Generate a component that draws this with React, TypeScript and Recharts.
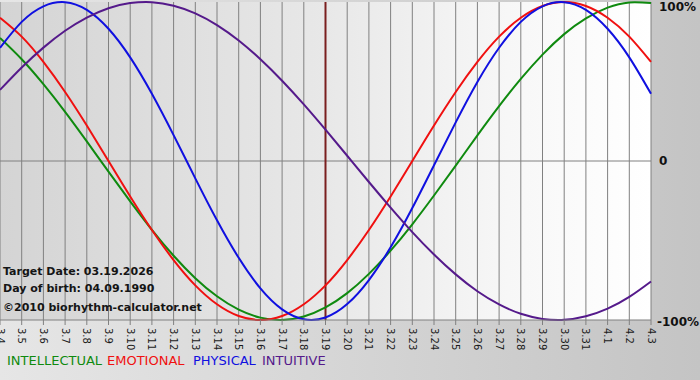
import React from "react";
import { CartesianGrid, Legend, Line, LineChart, ReferenceLine, XAxis, YAxis } from "recharts";

// day index 0 = March 4 ... 30 = April 3
const dayLabels = [
  "3.4", "3.5", "3.6", "3.7", "3.8", "3.9", "3.10", "3.11", "3.12", "3.13", "3.14",
  "3.15", "3.16", "3.17", "3.18", "3.19", "3.20", "3.21", "3.22", "3.23", "3.24",
  "3.25", "3.26", "3.27", "3.28", "3.29", "3.30", "3.31", "4.1", "4.2", "4.3",
];

const intellectual = [
  0.774, 0.64, 0.483, 0.309, 0.123, -0.067, -0.254, -0.433, -0.596, -0.737, -0.851,
  -0.935, -0.985, -1.0, -0.978, -0.921, -0.831, -0.71, -0.564, -0.398, -0.217,
  -0.029, 0.161, 0.345, 0.516, 0.669, 0.798, 0.897, 0.965, 0.997, 0.993,
];
const emotional = [
  0.901, 0.782, 0.623, 0.434, 0.223, 0.0, -0.223, -0.434, -0.623, -0.782, -0.901,
  -0.975, -1.0, -0.975, -0.901, -0.782, -0.623, -0.434, -0.223, 0.0, 0.223,
  0.434, 0.623, 0.782, 0.901, 0.975, 1.0, 0.975, 0.901, 0.782, 0.623,
];
const physical = [
  0.712, 0.875, 0.973, 0.999, 0.951, 0.832, 0.652, 0.423, 0.163, -0.109, -0.373,
  -0.609, -0.801, -0.933, -0.995, -0.984, -0.9, -0.749, -0.543, -0.296, -0.027,
  0.243, 0.497, 0.712, 0.875, 0.973, 0.999, 0.951, 0.832, 0.652, 0.423,
];
const intuitive = [
  0.447, 0.588, 0.713, 0.819, 0.902, 0.961, 0.993, 0.999, 0.977, 0.929, 0.855,
  0.758, 0.64, 0.505, 0.356, 0.197, 0.033, -0.132, -0.293, -0.447, -0.588,
  -0.713, -0.819, -0.902, -0.961, -0.993, -0.999, -0.977, -0.929, -0.855, -0.758,
];

const targetDay = 15;
const yLabels: Record<string, string> = { "1": "100%", "0": "0", "-1": "-100%" };

const series = [
  { key: "intellectual", name: "INTELLECTUAL", color: "#0f8a0f", left: 0 },
  { key: "emotional", name: "EMOTIONAL", color: "#f01010", left: 100 },
  { key: "physical", name: "PHYSICAL", color: "#1010e0", left: 186 },
  { key: "intuitive", name: "INTUITIVE", color: "#551a8b", left: 255 },
];

const data = dayLabels.map((label, i) => ({
  day: i,
  label,
  intellectual: intellectual[i],
  emotional: emotional[i],
  physical: physical[i],
  intuitive: intuitive[i],
}));

const font = "'DejaVu Sans', Verdana, sans-serif";

const XTick = (props: any) => {
  const { x, y, payload } = props;
  return (
    <text
      transform={`translate(${x},${y + 1}) rotate(90)`}
      textAnchor="start"
      dominantBaseline="central"
      fontSize={10}
      fontFamily={font}
      fill="#1a1a1a"
    >
      {dayLabels[payload.value]}
    </text>
  );
};

const YTick = (props: any) => {
  const { x, y, payload } = props;
  let dy = 4;
  let dx = 0;
  if (payload.value === 1) dy = 9;
  if (payload.value === -1) {
    dy = 6;
    dx = -2;
  }
  return (
    <text x={x + dx} y={y + dy} textAnchor="start" fontSize={12} fontWeight="bold" fontFamily={font} fill="#111">
      {yLabels[String(payload.value)]}
    </text>
  );
};

const LegendRow = () => (
  <div style={{ position: "relative", height: 16, fontFamily: font, fontSize: 13, whiteSpace: "nowrap" }}>
    {series.map((s) => (
      <span key={s.key} style={{ position: "absolute", left: s.left, top: 0, color: s.color }}>
        {s.name}
      </span>
    ))}
  </div>
);

export default function App() {
  return (
    <div
      style={{
        position: "absolute",
        left: 0,
        top: 0,
        width: 700,
        height: 380,
        background: "linear-gradient(to right, #e6e6e6, #c4c4c4)",
      }}
    >
      <svg width={0} height={0} style={{ position: "absolute" }}>
        <defs>
          <linearGradient id="plotBg" x1="0" y1="0" x2="1" y2="0">
            <stop offset="0%" stopColor="#d4d4d4" />
            <stop offset="50%" stopColor="#e8e8e8" />
            <stop offset="78%" stopColor="#f7f7f7" />
            <stop offset="100%" stopColor="#ffffff" />
          </linearGradient>
        </defs>
      </svg>
      <LineChart width={700} height={380} data={data} margin={{ top: 2, right: 0, left: 0, bottom: 0 }}>
        <CartesianGrid horizontal={false} stroke="#808080" strokeOpacity={1} fill="url(#plotBg)" fillOpacity={1} />
        <XAxis
          dataKey="day"
          type="number"
          domain={[0, 30]}
          ticks={data.map((d) => d.day)}
          interval={0}
          height={44}
          tickSize={5}
          tickMargin={2}
          stroke="#808080"
          tick={<XTick />}
        />
        <YAxis
          orientation="right"
          domain={[-1, 1]}
          ticks={[1, 0, -1]}
          interval={0}
          width={49}
          axisLine={false}
          tickLine={false}
          tickSize={0}
          tickMargin={8}
          tick={<YTick />}
        />
        <ReferenceLine y={0} stroke="#808080" strokeWidth={1} />
        <ReferenceLine x={targetDay} stroke="#7a1f1f" strokeWidth={2} />
        {series.map((s) => (
          <Line
            key={s.key}
            dataKey={s.key}
            name={s.name}
            type="natural"
            stroke={s.color}
            strokeWidth={2}
            dot={false}
            activeDot={false}
            isAnimationActive={false}
          />
        ))}
        <Legend content={<LegendRow />} wrapperStyle={{ left: 7, top: 353, width: 400 }} />
      </LineChart>
      <div
        style={{
          position: "absolute",
          left: 3,
          top: 263,
          fontFamily: font,
          fontSize: 11,
          fontWeight: "bold",
          color: "#151515",
          lineHeight: "17px",
        }}
      >
        <div>Target Date: 03.19.2026</div>
        <div>Day of birth: 04.09.1990</div>
        <div style={{ marginTop: 2 }}>©2010 biorhythm-calculator.net</div>
      </div>
    </div>
  );
}
